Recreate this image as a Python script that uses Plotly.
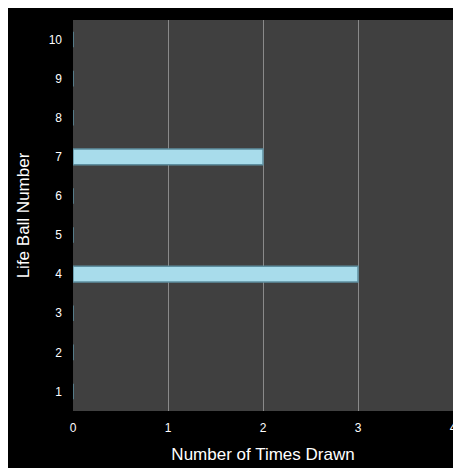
import plotly.graph_objects as go

balls = [1, 2, 3, 4, 5, 6, 7, 8, 9, 10]
times_drawn = [0, 0, 0, 3, 0, 0, 2, 0, 0, 0]
x_ticks = [0, 1, 2, 3, 4]

fig = go.Figure(go.Bar(
    y=balls, x=times_drawn, orientation="h", width=0.4,
    marker=dict(color="#a8dceb", line=dict(color="#5e8fa0", width=1.5)),
))
fig.update_layout(
    width=461, height=468,
    margin=dict(l=65, r=16, t=12, b=65),
    paper_bgcolor="black", plot_bgcolor="#404040",
    font=dict(family="Liberation Sans", color="white", size=12),
    showlegend=False,
)
fig.update_xaxes(range=[0, 4], tickvals=x_ticks, showgrid=True, gridcolor="#8a8a8a",
                 gridwidth=1, zeroline=False, ticks="", automargin=False,
                 ticklabelstandoff=8,
                 title=dict(text="Number of Times Drawn", font=dict(size=17), standoff=14))
fig.update_yaxes(range=[0.5, 10.5], tickvals=balls, showgrid=False, zeroline=False,
                 ticks="", ticklen=0, automargin=False, ticklabelstandoff=10,
                 title=dict(text="Life Ball Number", font=dict(size=17), standoff=14))
fig.write_html("out.html")
